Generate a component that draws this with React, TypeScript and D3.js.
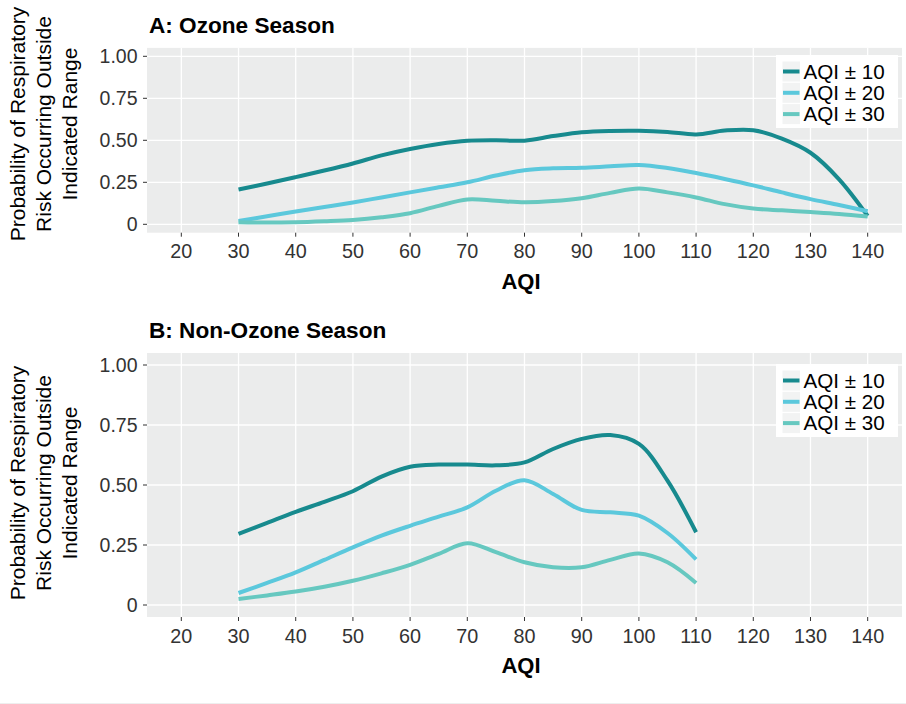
import React from "react";
import * as d3 from "d3";

const aqiOzone = [30, 35, 40, 45, 50, 55, 60, 65, 70, 75, 80, 85, 90, 95, 100, 105, 110, 115, 120, 125, 130, 135, 140];
const ozone10 = [0.207, 0.243, 0.281, 0.32, 0.362, 0.41, 0.448, 0.478, 0.497, 0.5, 0.498, 0.525, 0.548, 0.556, 0.557, 0.55, 0.535, 0.558, 0.56, 0.51, 0.426, 0.268, 0.05];
const ozone20 = [0.02, 0.048, 0.076, 0.103, 0.13, 0.16, 0.19, 0.22, 0.25, 0.29, 0.322, 0.333, 0.336, 0.345, 0.353, 0.335, 0.305, 0.27, 0.232, 0.19, 0.15, 0.115, 0.078];
const ozone30 = [0.012, 0.01, 0.012, 0.018, 0.026, 0.042, 0.066, 0.11, 0.148, 0.14, 0.131, 0.138, 0.155, 0.187, 0.213, 0.19, 0.16, 0.12, 0.094, 0.083, 0.073, 0.062, 0.047];

const aqiNonOzone = [30, 35, 40, 45, 50, 55, 60, 65, 70, 75, 80, 85, 90, 95, 100, 105, 110];
const nonOzone10 = [0.296, 0.342, 0.388, 0.43, 0.474, 0.535, 0.576, 0.585, 0.585, 0.582, 0.594, 0.65, 0.692, 0.708, 0.671, 0.518, 0.303];
const nonOzone20 = [0.05, 0.092, 0.136, 0.188, 0.24, 0.289, 0.33, 0.368, 0.407, 0.476, 0.52, 0.4625, 0.396, 0.386, 0.372, 0.3, 0.19];
const nonOzone30 = [0.025, 0.04, 0.056, 0.076, 0.101, 0.132, 0.167, 0.213, 0.257, 0.22, 0.178, 0.157, 0.157, 0.188, 0.215, 0.178, 0.092];

const seriesNames = ["AQI ± 10", "AQI ± 20", "AQI ± 30"];
const seriesColors = ["#178a8e", "#5bc8dc", "#66c8c0"];
const xTicks = [20, 30, 40, 50, 60, 70, 80, 90, 100, 110, 120, 130, 140];
const yTicks = [0, 0.25, 0.5, 0.75, 1];
const yTickLabels = ["0", "0.25", "0.50", "0.75", "1.00"];
const panelTitles = ["A: Ozone Season", "B: Non-Ozone Season"];
const yTitleLines = ["Probability of Respiratory", "Risk Occurring Outside", "Indicated Range"];

const FONT = "Liberation Sans, Arial, Helvetica, sans-serif";

const x = d3.scaleLinear().domain([14, 146]).range([147, 902]);

type PanelProps = {
  title: string;
  top: number;
  bottom: number;
  aqi: number[];
  series: number[][];
  titleY: number;
  legendTop: number;
  yTitleCenter: number;
};

function Panel({ title, top, bottom, aqi, series, titleY, legendTop, yTitleCenter }: PanelProps) {
  const y = d3.scaleLinear().domain([-0.05, 1.05]).range([bottom, top]);
  const [x0, x1] = x.range();
  const line = d3
    .line<[number, number]>()
    .x((d) => x(d[0]))
    .y((d) => y(d[1]))
    .curve(d3.curveCatmullRom.alpha(0.5));
  const rowH = 21.3;
  return (
    <g>
      <text x={149} y={titleY} fontFamily={FONT} fontWeight="bold" fontSize={22.6} fill="#000">
        {title}
      </text>
      <rect x={x0} y={top} width={x1 - x0} height={bottom - top} fill="#ebecec" />
      {yTicks.map((t) => (
        <line key={"gy" + t} x1={x0} x2={x1} y1={y(t)} y2={y(t)} stroke="#ffffff" strokeWidth={1.3} />
      ))}
      {xTicks.map((t) => (
        <line key={"gx" + t} x1={x(t)} x2={x(t)} y1={top} y2={bottom} stroke="#ffffff" strokeWidth={1.3} />
      ))}
      {series.map((vals, i) => (
        <path
          key={"s" + i}
          d={line(aqi.map((a, j) => [a, vals[j]] as [number, number])) || ""}
          fill="none"
          stroke={seriesColors[i]}
          strokeWidth={4}
        />
      ))}
      {yTicks.map((t, i) => (
        <g key={"yt" + t}>
          <line x1={x0 - 4} x2={x0} y1={y(t)} y2={y(t)} stroke="#333" strokeWidth={1} />
          <text
            x={137.5}
            y={y(t)}
            dy="0.35em"
            textAnchor="end"
            fontFamily={FONT}
            fontSize={19.5}
            fill="#333"
          >
            {yTickLabels[i]}
          </text>
        </g>
      ))}
      {xTicks.map((t) => (
        <g key={"xt" + t}>
          <line x1={x(t)} x2={x(t)} y1={bottom} y2={bottom + 4} stroke="#333" strokeWidth={1} />
          <text
            x={x(t)}
            y={bottom + 25.5}
            textAnchor="middle"
            fontFamily={FONT}
            fontSize={19.8}
            fill="#333"
          >
            {t}
          </text>
        </g>
      ))}
      <text
        x={521}
        y={bottom + 56}
        textAnchor="middle"
        fontFamily={FONT}
        fontWeight="bold"
        fontSize={22}
        fill="#000"
      >
        AQI
      </text>
      <g transform={`translate(0, ${yTitleCenter}) rotate(-90)`}>
        {yTitleLines.map((l, i) => (
          <text
            key={l}
            x={0}
            y={24.5 + i * 26}
            textAnchor="middle"
            fontFamily={FONT}
            fontSize={21}
            fill="#000"
          >
            {l}
          </text>
        ))}
      </g>
      <g>
        <rect x={776} y={legendTop} width={122} height={73} fill="#ffffff" />
        {seriesNames.map((n, i) => {
          const cy = legendTop + 16.5 + i * rowH;
          return (
            <g key={n}>
              <rect x={782.5} y={cy - 10} width={17.5} height={20} fill="#f2f3f3" />
              <line x1={783} x2={799.5} y1={cy} y2={cy} stroke={seriesColors[i]} strokeWidth={4} />
              <text x={803.5} y={cy} dy="0.35em" fontFamily={FONT} fontSize={20.6} fill="#000">
                {n}
              </text>
            </g>
          );
        })}
      </g>
    </g>
  );
}

export default function App() {
  return (
    <svg
      width={906}
      height={704}
      style={{ position: "absolute", left: 0, top: 0, background: "#fff" }}
    >
      <Panel
        title={panelTitles[0]}
        top={47.9}
        bottom={232.7}
        aqi={aqiOzone}
        series={[ozone10, ozone20, ozone30]}
        titleY={33}
        legendTop={55}
        yTitleCenter={124}
      />
      <Panel
        title={panelTitles[1]}
        top={353}
        bottom={617}
        aqi={aqiNonOzone}
        series={[nonOzone10, nonOzone20, nonOzone30]}
        titleY={338}
        legendTop={364}
        yTitleCenter={483}
      />
      <line x1={0} x2={906} y1={703.5} y2={703.5} stroke="#eeeeee" strokeWidth={1} />
    </svg>
  );
}
